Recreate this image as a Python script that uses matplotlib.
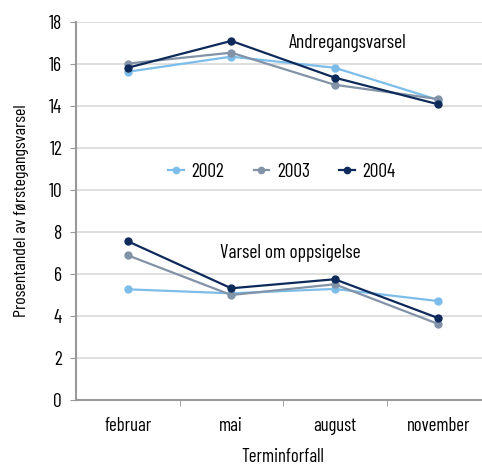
import matplotlib
matplotlib.use("Agg")
import matplotlib.pyplot as plt
from matplotlib import font_manager

names = {f.name for f in font_manager.fontManager.ttflist}
fam = "DejaVu Sans"
for cand in ["Barlow Condensed", "Roboto Condensed", "Liberation Sans Narrow"]:
    if cand in names:
        fam = cand
        break
plt.rcParams['font.family'] = [fam, 'DejaVu Sans']

months = ["februar", "mai", "august", "november"]
years = ["2002", "2003", "2004"]
colors = ["#7dbdea", "#8293a8", "#0e2a5a"]

andre_2002 = [15.63, 16.35, 15.82, 14.29]
andre_2003 = [16.02, 16.54, 15.01, 14.33]
andre_2004 = [15.82, 17.10, 15.35, 14.08]

oppsig_2002 = [5.27, 5.08, 5.29, 4.71]
oppsig_2003 = [6.89, 5.00, 5.51, 3.62]
oppsig_2004 = [7.56, 5.32, 5.75, 3.90]

andre = [andre_2002, andre_2003, andre_2004]
oppsig = [oppsig_2002, oppsig_2003, oppsig_2004]

fig = plt.figure(figsize=(4.82, 4.65), dpi=100)
ax = fig.add_axes([76/482, 65/465, 414/482, 378/465])

x = range(len(months))
for yr, c, a, o in zip(years, colors, andre, oppsig):
    ax.plot(x, a, color=c, marker="o", markersize=5, linewidth=1.6, label=yr, clip_on=False)
    ax.plot(x, o, color=c, marker="o", markersize=5, linewidth=1.6, clip_on=False)

ax.set_xlim(-0.5, 3.5)
ax.set_ylim(0, 18)
ax.set_yticks(range(0, 19, 2))
ax.set_xticks(list(x))
ax.set_xticklabels(months, fontsize=13.5)
ax.set_xticks([0.5, 1.5, 2.5], minor=True)
ax.tick_params(axis="x", which="major", length=0, pad=12)
ax.tick_params(axis="x", which="minor", length=4, color="#999999")
ax.tick_params(axis="y", length=4, color="#999999", labelsize=14, pad=6)
ax.yaxis.grid(True, color="#d9d9d9", linewidth=1.2)
ax.set_axisbelow(True)
for s in ["top", "right"]:
    ax.spines[s].set_visible(False)
for s in ["left", "bottom"]:
    ax.spines[s].set_color("#999999")
    ax.spines[s].set_linewidth(1.5)

ax.set_ylabel("Prosentandel av førstegangsvarsel", fontsize=13, labelpad=14)
fig.text(283/482, 1 - 457/465, "Terminforfall", fontsize=13.5, ha="center", va="center")

ax.text(2.12, 17.0, "Andregangsvarsel", fontsize=14, ha="center", va="center")
ax.text(1.57, 7.0, "Varsel om oppsigelse", fontsize=14, ha="center", va="center")

ax.legend(loc="center", bbox_to_anchor=((282-76)/414, (400-172)/378), ncol=3, frameon=False,
          fontsize=14, handlelength=0.8, columnspacing=1.5, handletextpad=0.4,
          markerscale=0.9, borderpad=0)

fig.savefig("out.png", dpi=100)
